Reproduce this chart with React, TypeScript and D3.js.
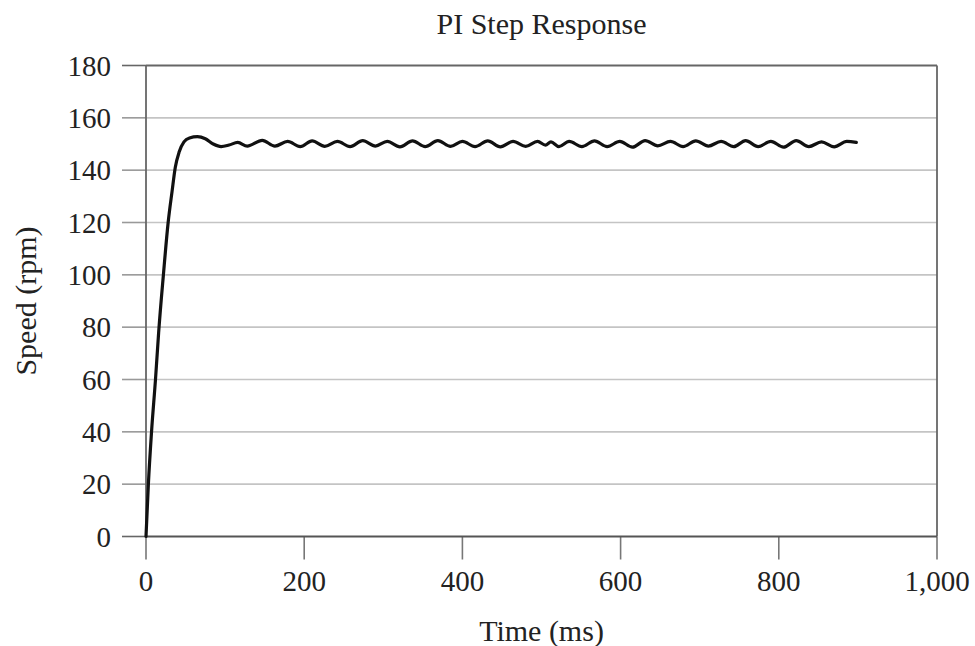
import React from "react";
import * as d3 from "d3";

const title = "PI Step Response";
const xLabel = "Time (ms)";
const yLabel = "Speed (rpm)";
const xTicks = [0, 200, 400, 600, 800, 1000];
const yTicks = [0, 20, 40, 60, 80, 100, 120, 140, 160, 180];

// time (ms)
const timeMs = [
  0, 3, 7, 12, 16, 22, 28, 33, 37, 42, 48, 55, 65, 75, 85, 95, 105, 116, 128,
  147, 163, 179, 195, 210, 226, 242, 258, 274, 290, 305, 321, 337, 353, 369,
  385, 400, 416, 432, 448, 464, 480, 495, 505, 512, 522, 535, 551, 567, 583,
  599, 615, 631, 647, 663, 679, 695, 711, 727, 743, 758, 774, 790, 806, 822,
  838, 854, 870, 886, 898,
];
// speed (rpm)
const speedRpm = [
  0, 20, 40, 60, 78, 100, 120, 132, 141, 147, 150.8, 152.3, 152.8, 152, 150,
  149, 149.6, 150.6, 149.2, 151.4, 149.2, 151, 149, 151.2, 149.1, 151, 149,
  151.3, 149.2, 151, 148.9, 151.2, 149, 151.3, 149.1, 151, 149, 151.2, 148.9,
  151, 149.1, 151, 149.6, 150.8, 149, 151, 149, 151.2, 149, 151, 148.8, 151.3,
  149.3, 151, 149, 151.2, 149.2, 151, 149, 151.3, 149, 151, 148.8, 151.3, 149,
  150.8, 148.9, 151, 150.6,
];

const W = 975;
const H = 646;
const left = 146;
const right = 937;
const top = 65.5;
const bottom = 536.5;
const FONT = "'Liberation Serif', 'Times New Roman', serif";

export default function App() {
  const x = d3.scaleLinear().domain([0, 1000]).range([left, right]);
  const y = d3.scaleLinear().domain([0, 180]).range([bottom, top]);
  const pts: [number, number][] = timeMs.map((t, i) => [t, speedRpm[i]]);
  const line = d3
    .line<[number, number]>()
    .x((d) => x(d[0]))
    .y((d) => y(d[1]))
    .curve(d3.curveMonotoneX);
  const fmt = d3.format(",");

  return (
    <svg
      width={W}
      height={H}
      style={{ position: "absolute", left: 0, top: 0, background: "#fff" }}
      fontFamily={FONT}
    >
      <rect x={0} y={0} width={W} height={H} fill="#fff" />
      {/* gridlines */}
      {yTicks
        .filter((v) => v !== 0 && v !== 180)
        .map((v) => (
          <line
            key={"g" + v}
            x1={left}
            x2={right}
            y1={y(v)}
            y2={y(v)}
            stroke="#c4c4c4"
            strokeWidth={1.6}
          />
        ))}
      {/* y ticks */}
      {yTicks.map((v) => (
        <line
          key={"yt" + v}
          x1={left - 24}
          x2={left}
          y1={y(v)}
          y2={y(v)}
          stroke={v === 0 || v === 180 ? "#666" : "#999"}
          strokeWidth={1.6}
        />
      ))}
      {/* x ticks */}
      {xTicks.map((v) => (
        <line
          key={"xt" + v}
          x1={x(v)}
          x2={x(v)}
          y1={bottom}
          y2={bottom + 23}
          stroke="#777"
          strokeWidth={1.6}
        />
      ))}
      {/* frame */}
      <line x1={left} x2={right} y1={top} y2={top} stroke="#666" strokeWidth={1.8} />
      <line x1={right} x2={right} y1={top} y2={bottom} stroke="#666" strokeWidth={1.8} />
      <line x1={left} x2={left} y1={top} y2={bottom} stroke="#666" strokeWidth={1.8} />
      <line x1={left} x2={right} y1={bottom} y2={bottom} stroke="#555" strokeWidth={1.8} />
      {/* data line */}
      <path
        d={line(pts) || ""}
        fill="none"
        stroke="#111"
        strokeWidth={3.2}
        strokeLinejoin="round"
        strokeLinecap="round"
      />
      {/* y tick labels */}
      {yTicks.map((v) => (
        <text
          key={"yl" + v}
          x={111}
          y={y(v)}
          textAnchor="end"
          dominantBaseline="central"
          fontSize={29}
          fill="#222"
        >
          {fmt(v)}
        </text>
      ))}
      {/* x tick labels */}
      {xTicks.map((v) => (
        <text
          key={"xl" + v}
          x={x(v)}
          y={591}
          textAnchor="middle"
          fontSize={29}
          fill="#222"
        >
          {fmt(v)}
        </text>
      ))}
      <text x={(left + right) / 2} y={34} textAnchor="middle" fontSize={30} fill="#222">
        {title}
      </text>
      <text x={(left + right) / 2} y={641} textAnchor="middle" fontSize={30} fill="#222">
        {xLabel}
      </text>
      <text
        transform={`translate(36, ${(top + bottom) / 2}) rotate(-90)`}
        textAnchor="middle"
        fontSize={30}
        fill="#222"
      >
        {yLabel}
      </text>
    </svg>
  );
}
